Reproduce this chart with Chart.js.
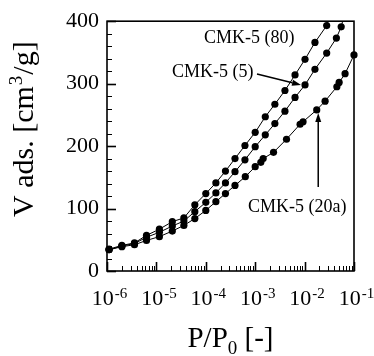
<!DOCTYPE html>
<html>
<head>
<meta charset="utf-8">
<script src="https://cdn.jsdelivr.net/npm/chart.js@4.4.0/dist/chart.umd.min.js"></script>
<style>
    html, body { margin: 0; padding: 0; background: #fff; }
    #wrap { width: 374px; height: 356px; }
</style>
</head>
<body>
<div id="wrap"><canvas id="isotherm" width="374" height="356"></canvas></div>
<script>
// Relative pressure P/P0 and adsorbed volume V (cm3/g)
const p80 = [1.1e-6, 2.0e-6, 3.6e-6, 6.3e-6, 1.15e-5, 2.1e-5, 3.6e-5, 6.0e-5, 1.0e-4, 1.6e-4, 2.5e-4,
    3.9e-4, 6.2e-4, 1.0e-3, 1.6e-3, 2.5e-3, 4.0e-3, 6.4e-3, 1.02e-2, 1.62e-2, 2.8e-2, 3.6e-2];
const v80 = [35, 41, 45, 57, 67, 79, 85, 106, 124, 141, 160,
    180, 201, 222, 247, 267, 289, 314, 339, 366, 393, 420];

const p5 = [1.1e-6, 2.0e-6, 3.6e-6, 6.3e-6, 1.15e-5, 2.1e-5, 3.6e-5, 6.0e-5, 1.0e-4, 1.6e-4, 2.5e-4,
    3.9e-4, 6.2e-4, 1.0e-3, 1.6e-3, 2.5e-3, 4.0e-3, 6.4e-3, 1.02e-2, 1.62e-2, 2.8e-2, 4.4e-2, 5.5e-2, 6.6e-2];
const v5 = [34, 40, 44, 54, 62, 72, 80, 95, 110, 125, 141,
    159, 178, 199, 218, 236, 256, 278, 298, 323, 349, 373, 391, 415];

const p20a = [1.1e-6, 2.0e-6, 3.6e-6, 6.3e-6, 1.15e-5, 2.1e-5, 3.6e-5, 6.0e-5, 1.0e-4, 1.6e-4, 2.5e-4,
    3.9e-4, 6.3e-4, 1.0e-3, 1.3e-3, 1.45e-3, 2.35e-3, 4.3e-3, 8.1e-3, 9.3e-3, 1.76e-2, 2.6e-2,
    4.5e-2, 5.0e-2, 6.6e-2, 1.0e-1];
const v20a = [34, 39, 42, 49, 55, 64, 73, 84, 97, 111, 124,
    137, 151, 167, 174, 180, 190, 211, 235, 239, 258, 272,
    295, 302, 316, 346];

const seriesLabels = ['CMK-5 (80)', 'CMK-5 (5)', 'CMK-5 (20a)'];
const xDecades = [-6, -5, -4, -3, -2, -1];
const yTicks = [0, 100, 200, 300, 400];

const SERIF = '"Liberation Serif", "Times New Roman", serif';

function toPoints(xs, ys) {
    return xs.map((x, i) => ({ x: x, y: ys[i] }));
}

function makeSeries(label, xs, ys) {
    return {
        label: label,
        data: toPoints(xs, ys),
        showLine: true,
        borderColor: '#000',
        borderWidth: 1,
        pointRadius: 3.6,
        pointBackgroundColor: '#000',
        pointBorderWidth: 0,
        tension: 0,
        clip: { left: 6, top: 0, right: 6, bottom: 6 }
    };
}

// 10 with a raised exponent, centred on x
function drawPower(ctx, x, y, exp) {
    ctx.font = '22px ' + SERIF;
    const baseW = ctx.measureText('10').width;
    const expText = '-' + Math.abs(exp);
    ctx.font = '15px ' + SERIF;
    const expW = ctx.measureText(expText).width;
    const left = x - (baseW + expW) / 2 + 2;
    ctx.font = '22px ' + SERIF;
    ctx.fillText('10', left, y);
    ctx.font = '15px ' + SERIF;
    ctx.fillText(expText, left + baseW + 1, y - 7);
}

function drawArrow(ctx, x1, y1, x2, y2) {
    const ang = Math.atan2(y2 - y1, x2 - x1);
    const head = 9, half = 3;
    ctx.beginPath();
    ctx.moveTo(x1, y1);
    ctx.lineTo(x2 - Math.cos(ang) * head, y2 - Math.sin(ang) * head);
    ctx.lineWidth = 1.5;
    ctx.stroke();
    ctx.beginPath();
    ctx.moveTo(x2, y2);
    ctx.lineTo(x2 - Math.cos(ang) * head - Math.sin(ang) * half, y2 - Math.sin(ang) * head + Math.cos(ang) * half);
    ctx.lineTo(x2 - Math.cos(ang) * head + Math.sin(ang) * half, y2 - Math.sin(ang) * head - Math.cos(ang) * half);
    ctx.closePath();
    ctx.fill();
}

/**
 * Frame, inward ticks, log labels, axis titles and annotations
 */
const isothermDecor = {
    id: 'isothermDecor',
    afterDraw(chart) {
        const ctx = chart.ctx;
        const area = chart.chartArea;
        const xs = chart.scales.x;
        const ys = chart.scales.y;
        ctx.save();
        ctx.strokeStyle = '#000';
        ctx.fillStyle = '#000';

        // frame
        ctx.lineWidth = 1.6;
        ctx.strokeRect(area.left, area.top, area.right - area.left, area.bottom - area.top);

        // y ticks every 20, long ones at the labels
        for (let v = 0; v <= 400; v += 20) {
            const y = Math.round(ys.getPixelForValue(v)) + 0.5;
            const major = v % 100 === 0;
            ctx.lineWidth = major ? 1.6 : 1;
            ctx.beginPath();
            ctx.moveTo(area.left, y);
            ctx.lineTo(area.left + (major ? 9 : 5), y);
            ctx.stroke();
        }

        // x ticks: decades and 2..9 in between
        xDecades.forEach(d => {
            for (let m = 1; m <= 9; m++) {
                if (d === -1 && m > 1) break;
                const x = Math.round(xs.getPixelForValue(m * Math.pow(10, d))) + 0.5;
                const major = m === 1;
                ctx.lineWidth = major ? 1.6 : 1;
                ctx.beginPath();
                ctx.moveTo(x, area.bottom);
                ctx.lineTo(x, area.bottom - (major ? 9 : 5));
                ctx.stroke();
            }
        });

        // x tick labels
        ctx.textAlign = 'left';
        ctx.textBaseline = 'alphabetic';
        xDecades.forEach(d => {
            drawPower(ctx, xs.getPixelForValue(Math.pow(10, d)), 305, d);
        });

        // x axis title P/P0 [-]
        ctx.font = '29px ' + SERIF;
        const wA = ctx.measureText('P/P').width;
        const wC = ctx.measureText(' [-]').width;
        ctx.font = '19px ' + SERIF;
        const wB = ctx.measureText('0').width;
        let tx = (area.left + area.right) / 2 - (wA + wB + wC) / 2;
        ctx.font = '29px ' + SERIF;
        ctx.fillText('P/P', tx, 347);
        ctx.font = '19px ' + SERIF;
        ctx.fillText('0', tx + wA, 354);
        ctx.font = '29px ' + SERIF;
        ctx.fillText(' [-]', tx + wA + wB, 347);

        // y axis title V ads. [cm3/g]
        ctx.save();
        ctx.translate(33, 217);
        ctx.rotate(-Math.PI / 2);
        ctx.font = '30px ' + SERIF;
        ctx.fillText('V ads. [cm', 0, 0);
        let w = ctx.measureText('V ads. [cm').width;
        ctx.font = '19px ' + SERIF;
        ctx.fillText('3', w + 1, -11);
        w += ctx.measureText('3').width + 2;
        ctx.font = '30px ' + SERIF;
        ctx.fillText('/g]', w, 0);
        ctx.restore();

        // sample labels with arrows
        ctx.font = '18px ' + SERIF;
        ctx.fillText(seriesLabels[0], 204, 43);
        ctx.fillText(seriesLabels[1], 172, 77);
        ctx.fillText(seriesLabels[2], 248, 212);
        drawArrow(ctx, 257, 74, xs.getPixelForValue(1.02e-2) - 4, ys.getPixelForValue(298));
        const ax = xs.getPixelForValue(1.76e-2) + 1.5;
        drawArrow(ctx, ax, 187, ax, ys.getPixelForValue(258) + 3);

        ctx.restore();
    }
};

new Chart(document.getElementById('isotherm'), {
    type: 'scatter',
    data: {
        datasets: [
            makeSeries(seriesLabels[0], p80, v80),
            makeSeries(seriesLabels[1], p5, v5),
            makeSeries(seriesLabels[2], p20a, v20a)
        ]
    },
    options: {
        responsive: false,
        devicePixelRatio: 1,
        animation: false,
        layout: { padding: { top: 20, right: 20, left: 0, bottom: 0 } },
        plugins: {
            legend: { display: false },
            tooltip: { enabled: false }
        },
        scales: {
            x: {
                type: 'logarithmic',
                min: 1e-6,
                max: 1e-1,
                grid: { display: false, drawTicks: false },
                border: { display: false },
                ticks: { display: false },
                afterFit: scale => { scale.height = 85; }
            },
            y: {
                min: 0,
                max: 400,
                afterBuildTicks: scale => { scale.ticks = yTicks.map(v => ({ value: v })); },
                grid: { display: false, drawTicks: false },
                border: { display: false },
                ticks: {
                    padding: 8,
                    color: '#000',
                    font: { family: SERIF, size: 22 }
                },
                afterFit: scale => { scale.width = 107; }
            }
        }
    },
    plugins: [isothermDecor]
});
</script>
</body>
</html>
